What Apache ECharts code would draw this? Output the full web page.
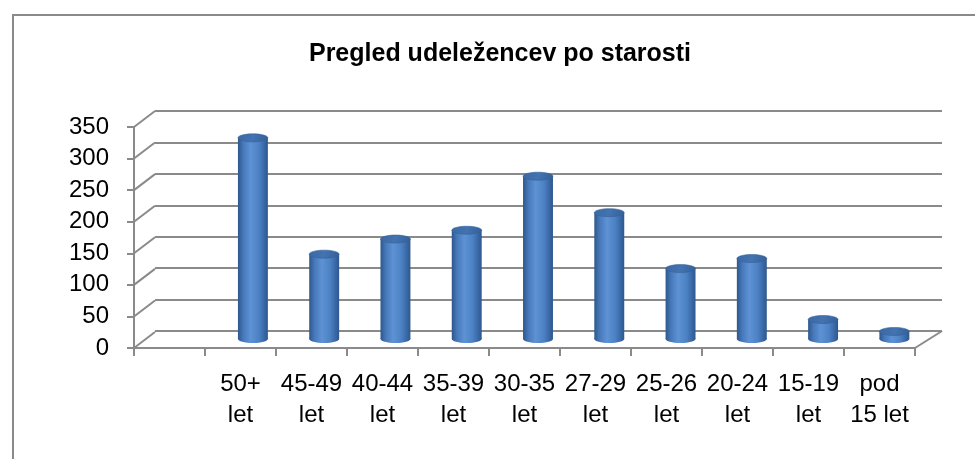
<!DOCTYPE html>
<html>
<head>
<meta charset="utf-8">
<script src="https://cdn.jsdelivr.net/npm/echarts@6/dist/echarts.min.js"></script>
<style>
html,body{margin:0;padding:0;background:#fff;}
#chart{width:975px;height:459px;}
</style>
</head>
<body>
<div id="chart"></div>
<script>
// ---- data ----
const titleText = 'Pregled udeležencev po starosti';
const categories = ['50+\nlet', '45-49\nlet', '40-44\nlet', '35-39\nlet', '30-35\nlet', '27-29\nlet', '25-26\nlet', '20-24\nlet', '15-19\nlet', 'pod\n15 let'];
const values = [320, 135, 159, 173, 259, 201, 112, 128, 31, 12];
const yMin = 0;
const yMax = 350;
const yStep = 50;
const yTicks = [0, 50, 100, 150, 200, 250, 300, 350];

// ---- derived ----
const xData = [''].concat(categories);              // first slot of the 3D floor is empty
const barData = values.map((v, i) => [i + 1, v]);
const FONT = 'Liberation Sans, Arial, sans-serif';
const GRID_COLOR = '#8a8a8a';
const DEPTH_X = 21, DEPTH_Y = -16;

const chart = echarts.init(document.getElementById('chart'), null, {renderer: 'canvas'});

function cylinder(params, api) {
  const idx = api.value(0);
  const val = api.value(1);
  const top = api.coord([idx, val]);
  const base = api.coord([idx, 0]);
  const w = api.size([1, 0])[0] * 0.42;
  const rx = w / 2, ry = 4;
  const body = new echarts.graphic.LinearGradient(0, 0, 1, 0, [
    {offset: 0, color: '#2e578c'},
    {offset: 0.18, color: '#4779ba'},
    {offset: 0.42, color: '#5d92d5'},
    {offset: 0.7, color: '#4c81c4'},
    {offset: 0.9, color: '#3765a2'},
    {offset: 1, color: '#2f588b'}
  ]);
  const cap = new echarts.graphic.LinearGradient(0, 0, 1, 1, [
    {offset: 0, color: '#3a68a3'},
    {offset: 0.5, color: '#4373b0'},
    {offset: 1, color: '#335f97'}
  ]);
  return {
    type: 'group',
    children: [
      {type: 'ellipse', shape: {cx: base[0], cy: base[1], rx: rx, ry: ry}, style: {fill: body}},
      {type: 'rect', shape: {x: base[0] - rx, y: top[1], width: w, height: base[1] - top[1]}, style: {fill: body}},
      {type: 'ellipse', shape: {cx: top[0], cy: top[1], rx: rx, ry: ry}, style: {fill: cap, stroke: '#36629c', lineWidth: 0.6}}
    ]
  };
}

function diagonals(params, api) {
  const v = api.value(0);
  const cs = params.coordSys;
  const y = api.coord([0, v])[1];
  const children = [{
    type: 'line',
    shape: {x1: cs.x, y1: y, x2: cs.x + DEPTH_X, y2: y + DEPTH_Y},
    style: {stroke: GRID_COLOR, lineWidth: 2}
  }];
  if (v === yMin) {
    const xr = cs.x + cs.width;
    children.push({
      type: 'line',
      shape: {x1: xr, y1: y, x2: xr + DEPTH_X + 6, y2: y + DEPTH_Y - 1},
      style: {stroke: GRID_COLOR, lineWidth: 2}
    });
  }
  return {type: 'group', children: children};
}

const option = {
  animation: false,
  backgroundColor: '#ffffff',
  title: {
    text: titleText,
    left: 495,
    top: 37,
    textAlign: 'center',
    textStyle: {fontFamily: FONT, fontSize: 25, fontWeight: 'bold', color: '#000'}
  },
  graphic: [{
    type: 'rect',
    shape: {x: 13, y: 15, width: 1000, height: 500},
    style: {fill: 'none', stroke: '#8a8a8a', lineWidth: 2},
    silent: true
  }],
  grid: [
    {left: 134, right: 60, top: 127, bottom: 111},   // front plane
    {left: 155, right: 33, top: 111, bottom: 128},   // back wall
    {left: 146, right: 45, top: 119, bottom: 120}    // middle plane (bars)
  ],
  xAxis: [
    {
      gridIndex: 0, type: 'category', data: xData,
      axisLine: {show: true, lineStyle: {color: GRID_COLOR, width: 2}},
      axisTick: {show: true, length: 8, lineStyle: {color: GRID_COLOR, width: 2}},
      axisLabel: {interval: 0, fontFamily: FONT, fontSize: 24, color: '#000', lineHeight: 31, margin: 21},
      splitLine: {show: false}
    },
    {gridIndex: 1, type: 'category', data: xData, show: false},
    {gridIndex: 2, type: 'category', data: xData, show: false}
  ],
  yAxis: [
    {
      gridIndex: 0, type: 'value', min: yMin, max: yMax, interval: yStep,
      axisLine: {show: true, lineStyle: {color: GRID_COLOR, width: 2}},
      axisTick: {show: true, length: 7, lineStyle: {color: GRID_COLOR, width: 2}},
      axisLabel: {fontFamily: FONT, fontSize: 24, color: '#000', margin: 25},
      splitLine: {show: false}
    },
    {
      gridIndex: 1, type: 'value', min: yMin, max: yMax, interval: yStep,
      axisLine: {show: false}, axisTick: {show: false}, axisLabel: {show: false},
      splitLine: {show: true, lineStyle: {color: GRID_COLOR, width: 2}}
    },
    {gridIndex: 2, type: 'value', min: yMin, max: yMax, interval: yStep, show: false, splitLine: {show: false}}
  ],
  series: [
    {
      type: 'custom', xAxisIndex: 0, yAxisIndex: 0, z: 3,
      renderItem: diagonals,
      data: yTicks.map(v => [v]),
      encode: {y: 0},
      silent: true
    },
    {
      type: 'custom', xAxisIndex: 2, yAxisIndex: 2, z: 5,
      renderItem: cylinder,
      data: barData,
      encode: {x: 0, y: 1}
    }
  ]
};
chart.setOption(option);
</script>
</body>
</html>
